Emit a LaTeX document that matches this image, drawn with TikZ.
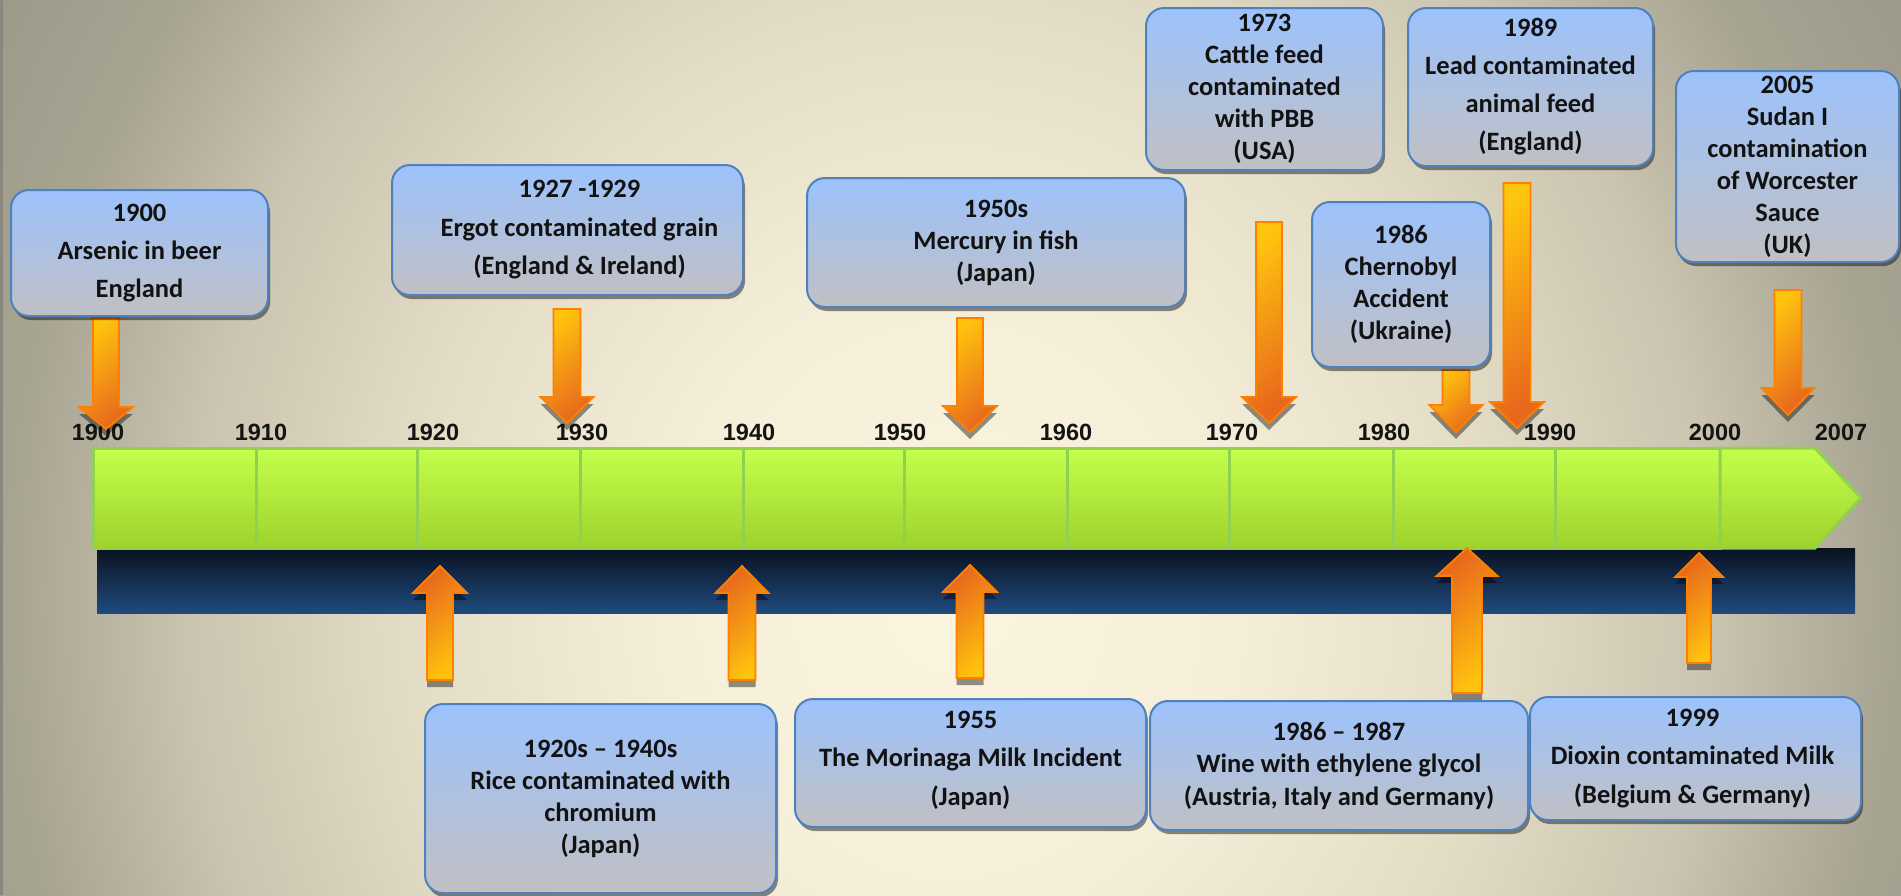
\documentclass[tikz,border=0pt]{standalone}
\usepackage{fontspec}
\setmainfont{Carlito}
\newfontfamily\yearfont{Liberation Sans}
\usetikzlibrary{shadows}

% palette
\definecolor{bg0}{RGB}{251,245,224}
\definecolor{bg1}{RGB}{245,238,216}
\definecolor{bg2}{RGB}{228,221,198}
\definecolor{bg3}{RGB}{202,196,176}
\definecolor{bg4}{RGB}{168,164,146}
\definecolor{bg5}{RGB}{150,147,132}
\definecolor{edgeline}{RGB}{138,136,126}
\definecolor{boxtop}{RGB}{156,194,252}
\definecolor{boxbot}{RGB}{192,192,196}
\definecolor{boxline}{RGB}{79,129,189}
\definecolor{arrowyel}{RGB}{255,196,14}
\definecolor{arroworg}{RGB}{232,104,28}
\definecolor{arrowline}{RGB}{255,128,0}
\definecolor{bartop}{RGB}{196,255,76}
\definecolor{barbot}{RGB}{158,210,44}
\definecolor{barline}{RGB}{146,208,80}
\definecolor{navytop}{RGB}{10,18,32}
\definecolor{navybot}{RGB}{31,74,126}
\definecolor{inktext}{RGB}{18,18,18}

% soft glow of the backdrop; 25bp is the edge of the shaded area
\pgfdeclareradialshading{bgglow}{\pgfpoint{0bp}{0bp}}{%
  color(0bp)=(bg0); color(7bp)=(bg1); color(13.5bp)=(bg2);
  color(19bp)=(bg3); color(23.5bp)=(bg4); color(30bp)=(bg5); color(50bp)=(bg5)}

\newcommand{\evfont}[1]{\fontsize{26.5}{#1}\selectfont\bfseries}

% block arrow: style, centre x, base y, head-base y, tip y, shaft half width, head half width
\newcommand{\blockarrow}[7]{%
  \fill[blockshadow, yshift=-7pt] ({#2-#6},{#3}) -- ({#2+#6},{#3}) -- ({#2+#6},{#4}) -- ({#2+#7},{#4}) -- ({#2},{#5}) -- ({#2-#7},{#4}) -- ({#2-#6},{#4}) -- cycle;
  \draw[#1] ({#2-#6},{#3}) -- ({#2+#6},{#3}) -- ({#2+#6},{#4}) -- ({#2+#7},{#4}) -- ({#2},{#5}) -- ({#2-#7},{#4}) -- ({#2-#6},{#4}) -- cycle;
}

\begin{document}
\begin{tikzpicture}[x=1pt, y=-1pt,
  barseg/.style={top color=bartop, bottom color=barbot, draw=barline, line width=3pt, line join=miter},
  blockshadow/.style={fill=black, opacity=0.42},
  downfill/.style={draw=arrowline, line width=1.8pt, line join=miter, top color=arrowyel, bottom color=arroworg, shading angle=40},
  upfill/.style={draw=arrowline, line width=1.8pt, line join=miter, top color=arroworg, bottom color=arrowyel, shading angle=40},
  eventbox/.style={draw=boxline, line width=2pt, rounded corners=18pt, top color=boxtop, bottom color=boxbot,
    drop shadow={shadow xshift=2pt, shadow yshift=-4pt, opacity=0.45, fill=black}, inner sep=0pt},
  eventtext/.style={align=center, text=inktext, inner sep=0pt},
  yearlab/.style={font=\yearfont\fontsize{23.5}{28}\selectfont\bfseries, text=black!92, inner sep=0pt}
]
\useasboundingbox (0,0) rectangle (1901,895);

% backdrop
\begin{scope}
  \clip (0,0) rectangle (1901,895);
  \shade[shading=bgglow] (-50,-500) rectangle (1950,1700);
\end{scope}
\draw[edgeline, line width=3pt] (1.5,0) -- (1.5,895);

% timeline: dark base strip and green decade segments
\shade[top color=navytop, bottom color=navybot] (97,548) rectangle (1855,613);
\foreach \a/\b in {93/256, 256/417, 417/580, 580/743, 743/904, 904/1067, 1067/1229, 1229/1393, 1393/1555, 1555/1720}
  \draw[barseg] (\a,448) rectangle (\b,548);
\draw[barseg] (1720,448) -- (1815,448) -- (1861,498) -- (1815,548) -- (1720,548) -- cycle;

% decade labels
\node[yearlab] (y1900) at (98,432) {1900};
\node[yearlab] (y1910) at (261,432) {1910};
\node[yearlab] (y1920) at (433,432) {1920};
\node[yearlab] (y1930) at (582,432) {1930};
\node[yearlab] (y1940) at (749,432) {1940};
\node[yearlab] (y1950) at (900,432) {1950};
\node[yearlab] (y1960) at (1066,432) {1960};
\node[yearlab] (y1970) at (1232,432) {1970};
\node[yearlab] (y1980) at (1384,432) {1980};
\node[yearlab] (y1990) at (1550,432) {1990};
\node[yearlab] (y2000) at (1715,432) {2000};
\node[yearlab] (y2007) at (1841,432) {2007};

% arrows from the upper events
\blockarrow{downfill}{106}{318}{407}{429}{13}{27}
\blockarrow{downfill}{567}{309}{397}{423}{13.5}{26.5}
\blockarrow{downfill}{970}{318}{406}{432}{13}{27}
\blockarrow{downfill}{1269}{222}{397}{423}{13}{27}
\blockarrow{downfill}{1456}{370}{405}{432}{13.5}{26.5}
\blockarrow{downfill}{1517}{183}{402}{428}{13.5}{27}
\blockarrow{downfill}{1788}{290}{388}{415}{13.5}{26.5}

% arrows from the lower events
\blockarrow{upfill}{440}{680}{593}{566}{13}{27}
\blockarrow{upfill}{742}{680}{593}{566}{13.5}{26.5}
\blockarrow{upfill}{970}{678}{592}{565}{13.5}{27}
\blockarrow{upfill}{1467}{693}{576}{548}{15}{30.5}
\blockarrow{upfill}{1699}{663}{577}{553}{12}{24}

% upper event boxes
\node[eventbox, minimum width=257pt, minimum height=126pt] (b1900) at (139.5,253) {};
\node[eventtext, font=\evfont{38}] (t1900) at (b1900.center) {1900\\Arsenic in beer\\England};

\node[eventbox, minimum width=351pt, minimum height=130pt] (b1927) at (567.5,230) {};
\node[eventtext, font=\evfont{38.5}] (t1927) at ([xshift=12pt]b1927.center) {1927 -1929\\Ergot contaminated grain\\(England \& Ireland)};

\node[eventbox, minimum width=378pt, minimum height=129pt] (b1950) at (996,242.5) {};
\node[eventtext, font=\evfont{32}] (t1950) at (b1950.center) {1950s\\Mercury in fish\\(Japan)};

\node[eventbox, minimum width=237pt, minimum height=162pt] (b1973) at (1264.5,89) {};
\node[eventtext, font=\evfont{32}] (t1973) at (b1973.center) {1973\\Cattle feed\\contaminated\\with PBB\\(USA)};

\node[eventbox, minimum width=245pt, minimum height=158pt] (b1989) at (1530.5,87) {};
\node[eventtext, font=\evfont{38}] (t1989) at (b1989.center) {1989\\Lead contaminated\\animal feed\\(England)};

\node[eventbox, minimum width=178pt, minimum height=165pt] (b1986) at (1401,284.5) {};
\node[eventtext, font=\evfont{32}] (t1986) at (b1986.center) {1986\\Chernobyl\\Accident\\(Ukraine)};

\node[eventbox, minimum width=223pt, minimum height=191pt] (b2005) at (1787.5,166.5) {};
\node[eventtext, font=\evfont{32}] (t2005) at (b2005.center) {2005\\Sudan I\\contamination\\of Worcester\\Sauce\\(UK)};

% lower event boxes
\node[eventbox, minimum width=351pt, minimum height=189pt] (b1920) at (600.5,798.5) {};
\node[eventtext, font=\evfont{32}] (t1920) at (b1920.center) {1920s – 1940s\\Rice contaminated with\\chromium\\(Japan)};

\node[eventbox, minimum width=351pt, minimum height=128pt] (b1955) at (970.5,763) {};
\node[eventtext, font=\evfont{38.5}] (t1955) at ([yshift=3pt]b1955.center) {1955\\The Morinaga Milk Incident\\(Japan)};

\node[eventbox, minimum width=378pt, minimum height=129pt] (b1987) at (1339,765.5) {};
\node[eventtext, font=\evfont{32.5}] (t1987) at (b1987.center) {1986 – 1987\\Wine with ethylene glycol\\(Austria, Italy and Germany)};

\node[eventbox, minimum width=331pt, minimum height=123pt] (b1999) at (1695.5,758.5) {};
\node[eventtext, font=\evfont{38.5}] (t1999) at ([xshift=-3pt]b1999.center) {1999\\Dioxin contaminated Milk\\(Belgium \& Germany)};

\end{tikzpicture}
\end{document}
